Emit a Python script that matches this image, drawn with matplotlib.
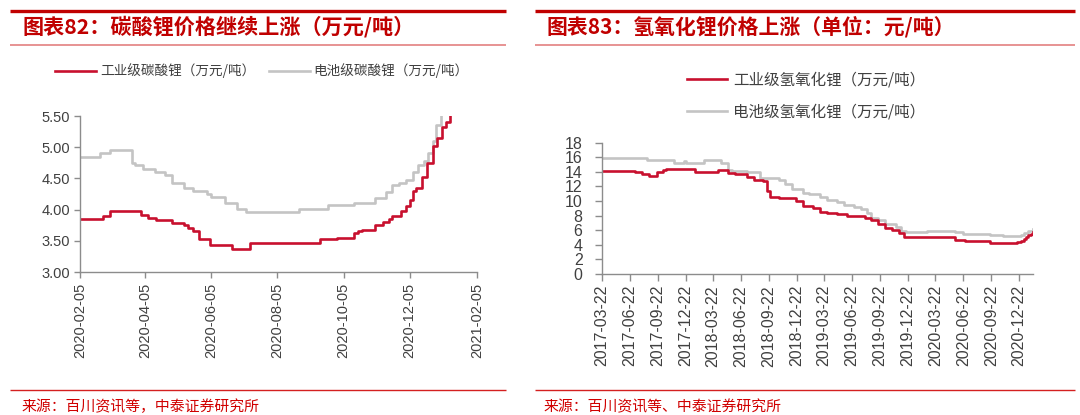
import matplotlib
matplotlib.use("Agg")
import matplotlib.pyplot as plt
from matplotlib.lines import Line2D
import matplotlib.ticker as mticker
import pandas as pd

# ---------------- data: left chart (碳酸锂, 万元/吨) ----------------
carb_ind_dates = ["2020-02-05", "2020-02-26", "2020-03-04", "2020-04-01", "2020-04-08",
                  "2020-04-15", "2020-04-30", "2020-05-11", "2020-05-15", "2020-05-19",
                  "2020-05-25", "2020-06-04", "2020-06-24", "2020-07-11", "2020-09-13",
                  "2020-09-29", "2020-10-15", "2020-10-18", "2020-10-22", "2020-11-03",
                  "2020-11-10", "2020-11-16", "2020-11-19", "2020-11-27", "2020-12-02",
                  "2020-12-05", "2020-12-08", "2020-12-11", "2020-12-16", "2020-12-21",
                  "2020-12-26", "2020-12-30", "2021-01-04", "2021-01-07", "2021-01-11"]
carb_ind_vals = [3.85, 3.90, 3.97, 3.92, 3.87,
                 3.83, 3.78, 3.75, 3.70, 3.65,
                 3.53, 3.43, 3.37, 3.47, 3.53,
                 3.55, 3.62, 3.65, 3.68, 3.75,
                 3.80, 3.85, 3.90, 3.97, 4.05,
                 4.15, 4.30, 4.35, 4.52, 4.75,
                 5.02, 5.15, 5.32, 5.40, 5.50]

carb_bat_dates = ["2020-02-05", "2020-02-23", "2020-03-04", "2020-03-24", "2020-03-27",
                  "2020-04-03", "2020-04-14", "2020-04-23", "2020-04-30", "2020-05-11",
                  "2020-05-19", "2020-06-01", "2020-06-05", "2020-06-18", "2020-06-29",
                  "2020-07-07", "2020-08-25", "2020-09-21", "2020-10-15", "2020-11-03",
                  "2020-11-13", "2020-11-19", "2020-11-25", "2020-12-02", "2020-12-08",
                  "2020-12-13", "2020-12-18", "2020-12-22", "2020-12-26", "2020-12-29",
                  "2021-01-03"]
carb_bat_vals = [4.85, 4.90, 4.95, 4.75, 4.72,
                 4.65, 4.61, 4.55, 4.43, 4.35,
                 4.30, 4.25, 4.20, 4.10, 4.01,
                 3.96, 4.01, 4.08, 4.11, 4.18,
                 4.28, 4.39, 4.42, 4.48, 4.60,
                 4.72, 4.78, 4.90, 5.10, 5.35,
                 5.60]

left_xticks = ["2020-02-05", "2020-04-05", "2020-06-05", "2020-08-05",
               "2020-10-05", "2020-12-05", "2021-02-05"]
left_yticks = [3.00, 3.50, 4.00, 4.50, 5.00, 5.50]

# ---------------- data: right chart (氢氧化锂, 万元/吨) ----------------
hyd_ind_dates = ["2017-03-22", "2017-07-09", "2017-08-01", "2017-08-24", "2017-09-20",
                 "2017-10-07", "2017-10-18", "2018-01-21", "2018-03-20", "2018-04-06",
                 "2018-05-11", "2018-06-03", "2018-07-12", "2018-08-04", "2018-09-02",
                 "2018-09-14", "2018-09-25", "2018-10-24", "2018-12-20", "2019-01-11",
                 "2019-02-13", "2019-03-08", "2019-03-31", "2019-05-04", "2019-06-07",
                 "2019-08-03", "2019-08-25", "2019-09-16", "2019-10-09", "2019-11-01",
                 "2019-11-23", "2019-12-11", "2020-05-24", "2020-06-28", "2020-09-16",
                 "2020-09-28", "2020-12-16", "2020-12-28", "2021-01-08", "2021-01-15",
                 "2021-01-22", "2021-01-29", "2021-02-06"]
hyd_ind_vals = [14.1, 13.9, 13.75, 13.4, 13.9,
                14.2, 14.4, 13.9, 14.0, 14.2,
                13.85, 13.65, 13.25, 12.9, 12.7,
                11.4, 10.6, 10.4, 10.0, 9.3,
                9.0, 8.55, 8.3, 8.15, 8.0,
                7.7, 7.35, 6.8, 6.3, 6.05,
                5.6, 5.0, 4.7, 4.45, 4.3,
                4.25, 4.35, 4.5, 4.8, 5.0,
                5.3, 5.5, 5.7]

hyd_bat_dates = ["2017-03-22", "2017-08-18", "2017-11-13", "2017-12-17", "2017-12-23",
                 "2018-02-19", "2018-04-17", "2018-05-11", "2018-05-22", "2018-07-12",
                 "2018-08-22", "2018-10-24", "2018-11-15", "2018-12-08", "2019-01-11",
                 "2019-02-02", "2019-03-08", "2019-03-31", "2019-05-04", "2019-05-27",
                 "2019-06-30", "2019-07-23", "2019-08-09", "2019-08-25", "2019-09-16",
                 "2019-10-09", "2019-11-12", "2019-11-29", "2019-12-16", "2020-02-22",
                 "2020-05-24", "2020-06-22", "2020-09-16", "2020-11-01", "2020-12-16",
                 "2020-12-28", "2021-01-08", "2021-01-20", "2021-02-06"]
hyd_bat_vals = [15.9, 15.55, 15.2, 15.5, 15.2,
                15.65, 15.2, 14.25, 14.1, 13.9,
                13.15, 12.9, 12.3, 11.6, 11.15,
                10.9, 10.55, 10.15, 9.8, 9.45,
                9.2, 8.85, 8.4, 7.7, 7.35,
                6.9, 6.4, 5.95, 5.75, 5.9,
                5.7, 5.5, 5.3, 5.15, 5.2,
                5.35, 5.6, 5.9, 6.2]

right_xticks = ["2017-03-22", "2017-06-22", "2017-09-22", "2017-12-22",
                "2018-03-22", "2018-06-22", "2018-09-22", "2018-12-22",
                "2019-03-22", "2019-06-22", "2019-09-22", "2019-12-22",
                "2020-03-22", "2020-06-22", "2020-09-22", "2020-12-22"]
right_yticks = [0, 2, 4, 6, 8, 10, 12, 14, 16, 18]

# ---------------- texts ----------------
title_left = "图表82：碳酸锂价格继续上涨（万元/吨）"
title_right = "图表83：氢氧化锂价格上涨（单位：元/吨）"
legend_left = ["工业级碳酸锂（万元/吨）", "电池级碳酸锂（万元/吨）"]
legend_right = ["工业级氢氧化锂（万元/吨）", "电池级氢氧化锂（万元/吨）"]
source_left = "来源：百川资讯等，中泰证券研究所"
source_right = "来源：百川资讯等、中泰证券研究所"

# ---------------- style ----------------
RED = "#C8102E"
GRAY = "#C4C4C4"
TITLE_RED = "#C00000"
SPINE = "#8C8C8C"
TXT = "#404040"
CJK = ["Noto Sans CJK SC", "DejaVu Sans"]
LAT = ["Liberation Sans", "DejaVu Sans"]

plt.rcParams["font.family"] = LAT

W, H = 1080, 415
fig = plt.figure(figsize=(W / 100, H / 100), dpi=100)


def fx(px):
    return px / W


def fy(py):
    return 1 - py / H


# decorations
for x0, x1 in [(10, 506), (535, 1075)]:
    fig.add_artist(Line2D([fx(x0), fx(x1)], [fy(10.7), fy(10.7)], transform=fig.transFigure,
                          color=TITLE_RED, lw=2.4, solid_capstyle="butt"))
    fig.add_artist(Line2D([fx(x0), fx(x1)], [fy(45), fy(45)], transform=fig.transFigure,
                          color="#E58A8A", lw=1.3, solid_capstyle="butt"))
    fig.add_artist(Line2D([fx(x0), fx(x1)], [fy(390), fy(390)], transform=fig.transFigure,
                          color="#D42020", lw=1.0, solid_capstyle="butt"))

fig.text(fx(23), fy(27), title_left, family=CJK, fontsize=15.2, fontweight="bold",
         fontstyle="italic", color=TITLE_RED, ha="left", va="center")
fig.text(fx(546), fy(27), title_right, family=CJK, fontsize=15.0, fontweight="bold",
         fontstyle="italic", color=TITLE_RED, ha="left", va="center")
fig.text(fx(21), fy(407), source_left, family=CJK, fontsize=10.7, color="#D00000",
         ha="left", va="center")
fig.text(fx(544), fy(407), source_right, family=CJK, fontsize=10.7, color="#D00000",
         ha="left", va="center")


def style_axes(ax, size, ypad, xpad, ticklen):
    for s in ["top", "right"]:
        ax.spines[s].set_visible(False)
    for s in ["left", "bottom"]:
        ax.spines[s].set_color(SPINE)
        ax.spines[s].set_linewidth(1.0)
    ax.tick_params(axis="both", direction="out", color=SPINE, length=ticklen, width=1.0,
                   labelsize=size, labelcolor=TXT)
    ax.tick_params(axis="y", pad=ypad)
    ax.tick_params(axis="x", pad=xpad, labelrotation=90)
    ax.set_facecolor("none")


# ---------------- left chart ----------------
axL = fig.add_axes([fx(80), fy(272), fx(477) - fx(80), fy(116) - fy(272)])
axL.plot(pd.to_datetime(carb_bat_dates), carb_bat_vals, color=GRAY, lw=1.9,
         drawstyle="steps-post", label=legend_left[1])
axL.plot(pd.to_datetime(carb_ind_dates), carb_ind_vals, color=RED, lw=1.9,
         drawstyle="steps-post", label=legend_left[0])
lt = pd.to_datetime(left_xticks)
axL.set_xlim(lt[0], lt[-1])
axL.set_ylim(left_yticks[0], left_yticks[-1])
axL.xaxis.set_major_locator(mticker.FixedLocator(matplotlib.dates.date2num(lt)))
axL.xaxis.set_major_formatter(mticker.FixedFormatter(left_xticks))
axL.set_yticks(left_yticks)
axL.yaxis.set_major_formatter(mticker.FormatStrFormatter("%.2f"))
style_axes(axL, 10.5, 3, 4, 4)

hl, ll = axL.get_legend_handles_labels()
legL = axL.legend([hl[1], hl[0]], [ll[1], ll[0]], ncol=2, loc="center left",
                  bbox_to_anchor=(fx(55), fy(71)), bbox_transform=fig.transFigure,
                  frameon=False, borderpad=0, borderaxespad=0, handlelength=3.0,
                  handletextpad=0.3, columnspacing=1.0, prop={"family": CJK, "size": 9.8})
for t in legL.get_texts():
    t.set_color(TXT)

# ---------------- right chart ----------------
axR = fig.add_axes([fx(602), fy(274), fx(1033) - fx(602), fy(142.5) - fy(274)])
axR.plot(pd.to_datetime(hyd_bat_dates), hyd_bat_vals, color=GRAY, lw=1.9,
         drawstyle="steps-post", label=legend_right[1])
axR.plot(pd.to_datetime(hyd_ind_dates), hyd_ind_vals, color=RED, lw=1.9,
         drawstyle="steps-post", label=legend_right[0])
rt = pd.to_datetime(right_xticks)
axR.set_xlim(rt[0], pd.Timestamp("2021-02-06"))
axR.set_ylim(right_yticks[0], right_yticks[-1])
axR.xaxis.set_major_locator(mticker.FixedLocator(matplotlib.dates.date2num(rt)))
axR.xaxis.set_major_formatter(mticker.FixedFormatter(right_xticks))
axR.set_yticks(right_yticks)
style_axes(axR, 11.5, 9, 3, 5)

hr, lr = axR.get_legend_handles_labels()
legR = axR.legend([hr[1], hr[0]], [lr[1], lr[0]], ncol=1, loc="center left",
                  bbox_to_anchor=(fx(687), fy(96)), bbox_transform=fig.transFigure,
                  frameon=False, borderpad=0, borderaxespad=0, handlelength=2.6,
                  handletextpad=0.35, labelspacing=0.95, prop={"family": CJK, "size": 11.2})
for t in legR.get_texts():
    t.set_color(TXT)

fig.savefig("out.png", dpi=100)
